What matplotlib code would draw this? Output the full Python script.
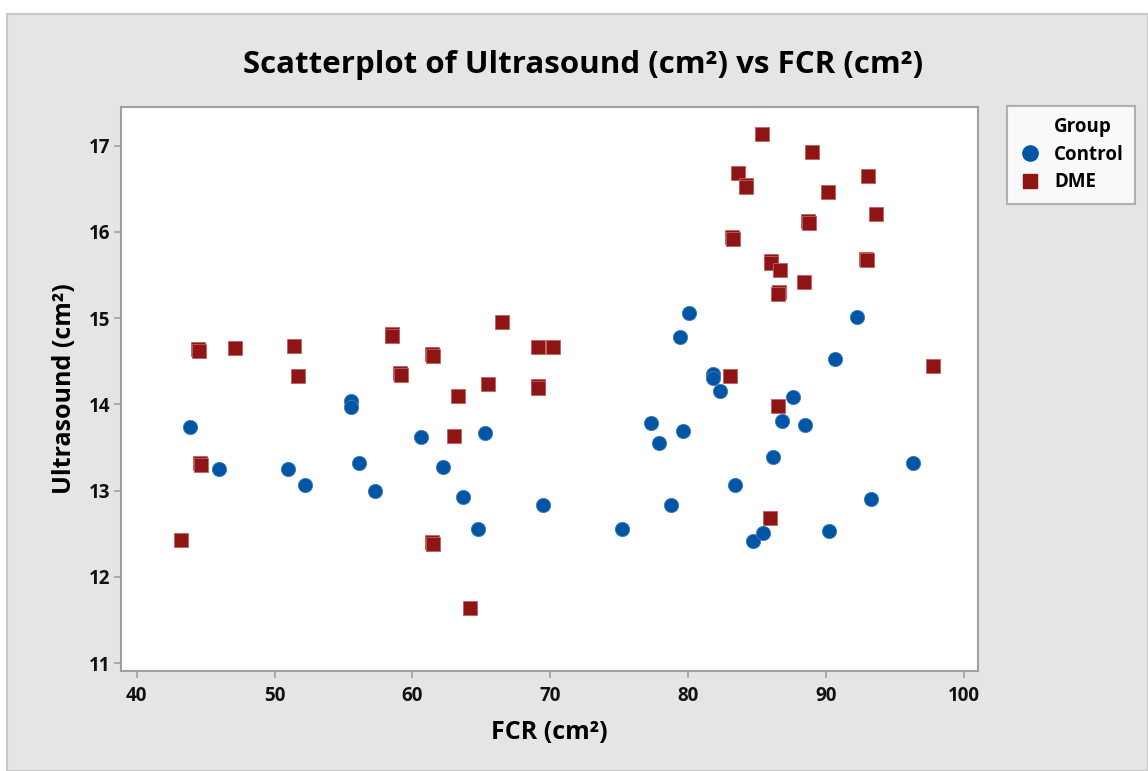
import matplotlib.pyplot as plt
from matplotlib.lines import Line2D
from matplotlib.patches import Rectangle

# Control group
ctrl_fcr = [43.9, 46.0, 51.0, 52.2, 55.55, 55.55, 56.1, 57.3, 60.6, 62.2, 63.7, 64.8, 65.3,
            69.5, 75.2, 77.3, 77.9, 78.8, 79.4, 79.65, 80.1, 81.8, 81.8, 82.3, 83.45, 84.7,
            85.45, 86.2, 86.8, 87.65, 88.5, 90.25, 90.7, 92.3, 93.3, 96.3]
ctrl_us = [13.74, 13.25, 13.25, 13.06, 14.04, 13.97, 13.32, 13.0, 13.62, 13.27, 12.93, 12.56, 13.67,
           12.83, 12.56, 13.78, 13.55, 12.83, 14.78, 13.69, 15.06, 14.35, 14.31, 14.16, 13.07, 12.42,
           12.51, 13.39, 13.81, 14.09, 13.76, 12.53, 14.53, 15.01, 12.9, 13.32]

# DME group
dme_fcr = [43.2, 44.45, 44.5, 44.6, 44.65, 47.1, 51.4, 51.7, 58.5, 58.55, 59.1, 59.15, 61.45, 61.5,
           61.45, 61.5, 63.0, 63.3, 64.2, 65.5, 66.5, 69.1, 70.2, 69.1, 69.15,
           83.05, 83.2, 83.25, 83.65, 84.2, 84.25, 85.4, 85.95, 86.0, 86.05, 86.55, 86.6, 86.55,
           86.7, 88.4, 88.7, 88.75, 89.0, 90.2, 92.95, 93.0, 93.1, 93.65, 97.75]
dme_us = [12.43, 14.64, 14.62, 13.32, 13.30, 14.65, 14.68, 14.33, 14.81, 14.79, 14.36, 14.34, 14.58,
          14.56, 12.40, 12.38, 13.63, 14.10, 11.64, 14.24, 14.96, 14.66, 14.66, 14.21, 14.19,
          14.33, 15.94, 15.92, 16.68, 16.54, 16.52, 17.13, 12.68, 15.66, 15.64, 13.98, 15.30, 15.28,
          15.56, 15.42, 16.12, 16.10, 16.93, 16.46, 15.69, 15.67, 16.65, 16.21, 14.45]

blue = '#0055a5'
red = '#8f1414'
font = 'Open Sans'

fig = plt.figure(figsize=(11.48, 7.71), dpi=100, facecolor='white')
fig.patches.append(Rectangle((7 / 1148, 0), 1 - 7 / 1148, 1 - 14 / 771, transform=fig.transFigure,
                             facecolor='#e5e5e5', edgecolor='#c8c8c8', linewidth=1.5, zorder=-10))

ax = fig.add_axes([121 / 1148, 1 - 671 / 771, (978 - 121) / 1148, (671 - 106.7) / 771])
ax.scatter(ctrl_fcr, ctrl_us, s=105, marker='o', color=blue, edgecolors='#3d7cc0', linewidths=0.6, zorder=3)
ax.scatter(dme_fcr, dme_us, s=100, marker='s', color=red, edgecolors='#c06060', linewidths=0.6, zorder=3)

ax.set_xlim(38.86, 101.05)
ax.set_ylim(10.91, 17.45)
ax.set_xticks([40, 50, 60, 70, 80, 90, 100])
ax.set_yticks([11, 12, 13, 14, 15, 16, 17])
for s in ax.spines.values():
    s.set_color('#a0a0a0')
    s.set_linewidth(1.5)
ax.tick_params(length=5, width=1.2, color='#a0a0a0', labelsize=13.5, labelcolor='#111111')
ax.tick_params(axis='x', pad=6)
ax.tick_params(axis='y', pad=3)
for lb in ax.get_xticklabels() + ax.get_yticklabels():
    lb.set_fontweight('bold')
    lb.set_fontfamily(font)

ax.set_xlabel('FCR (cm²)', fontsize=18, fontweight='bold', family=font, labelpad=10)
ax.set_ylabel('Ultrasound (cm²)', fontsize=18, fontweight='bold', family=font, labelpad=8)
fig.text(583 / 1148, 1 - 65 / 771, 'Scatterplot of Ultrasound (cm²) vs FCR (cm²)', ha='center', va='center',
         fontsize=22.5, fontweight='bold', family=font)

handles = [Line2D([], [], linestyle='none'),
           Line2D([], [], linestyle='none', marker='o', markersize=11, color=blue),
           Line2D([], [], linestyle='none', marker='s', markersize=10, color=red)]
leg = fig.legend(handles, ['Group', 'Control', 'DME'], loc='upper left',
                 bbox_to_anchor=(1007 / 1148, 1 - 106 / 771), borderaxespad=0, frameon=True, fancybox=False,
                 prop={'family': font, 'weight': 'bold', 'size': 13.5},
                 handletextpad=0.7, labelspacing=0.4, borderpad=0.6, handlelength=1.2)
leg.get_frame().set_edgecolor('#a0a0a0')
leg.get_frame().set_linewidth(1.5)

fig.savefig('out.png', dpi=100)
